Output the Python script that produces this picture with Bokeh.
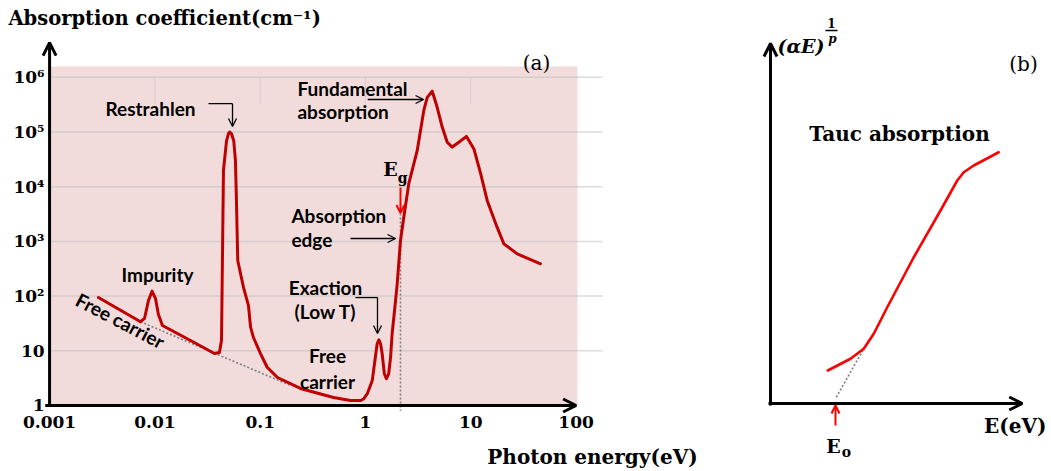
from bokeh.plotting import figure
from bokeh.layouts import row
from bokeh.models import Range1d, FixedTicker, Label, Arrow, OpenHead, LogAxis
from bokeh.embed import file_html
from bokeh.resources import INLINE

# ---------------------------------------------------------------------------
# (a) absorption coefficient versus photon energy (log-log, schematic)
# ---------------------------------------------------------------------------
energy_ev = [0.00291, 0.0073, 0.00797, 0.00869, 0.0094, 0.01014, 0.0108, 0.0118,
             0.0218, 0.0368, 0.041, 0.0429, 0.0439, 0.0448, 0.0479, 0.0500, 0.0514,
             0.0534, 0.0561, 0.0582, 0.0595, 0.0612, 0.0694, 0.0774, 0.081, 0.0863,
             0.1007, 0.1165, 0.146, 0.241, 0.497, 0.72, 0.90, 0.964, 1.04, 1.16, 1.24,
             1.29, 1.34, 1.39, 1.44, 1.51, 1.58, 1.66, 1.73, 1.79, 1.93, 2.0, 2.15,
             2.31, 2.58, 3.10, 3.58, 3.86, 4.30, 4.80, 5.35, 5.97, 6.66, 7.7, 9.1,
             10.7, 12.4, 14.3, 17.8, 20.6, 27.6, 45.9]
absorption_cm = [94, 34, 39, 83, 123, 90, 46, 29,
                 15.4, 8.9, 9.3, 15.5, 680, 2.0e4, 6.9e4, 9.3e4, 1.0e5,
                 9.3e4, 6.9e4, 3.0e4, 5.6e3, 447, 144, 67, 27, 17.5,
                 8.9, 5.0, 3.25, 2.05, 1.4, 1.23, 1.23, 1.33, 1.64, 2.86, 7.6,
                 13.4, 15.9, 13.4, 8.8, 3.8, 3.1, 3.8, 7.6, 20.5, 83, 167, 1040,
                 2770, 1.15e4, 4.6e4, 2.5e5, 4.3e5, 5.6e5, 2.8e5, 1.23e5, 6.5e4, 5.3e4,
                 6.5e4, 8.3e4, 4.9e4, 1.73e4, 5.6e3, 1.8e3, 900, 590, 390]

# free-carrier background extrapolation (dotted)
free_carrier_e = [0.0073, 0.194]
free_carrier_a = [34, 2.32]

EG_EV = 2.15  # band-gap energy marker

x_ticks = [0.001, 0.01, 0.1, 1.0, 10.0, 100.0]
x_tick_labels = ["0.001", "0.01", "0.1", "1", "10", "100"]
y_ticks = [1.0, 10.0, 100.0, 1000.0, 1e4, 1e5, 1e6]
y_tick_labels = ["1", "10", "10²", "10³", "10⁴", "10⁵", "10⁶"]

# ---------------------------------------------------------------------------
# (b) Tauc plot, arbitrary units
# ---------------------------------------------------------------------------
tauc_e = [2.29, 3.2, 3.73, 4.13, 4.67, 5.73, 6.8, 7.47, 7.73, 8.13, 9.13]
tauc_y = [1.32, 1.79, 2.19, 2.79, 3.85, 5.85, 7.72, 8.92, 9.25, 9.52, 10.05]
tauc_fit_e = [2.63, 3.73]
tauc_fit_y = [0.25, 2.19]
E0 = 2.6

SERIF = "DejaVu Serif"
SANS = "Lato"
CURVE_RED = "#c00000"
BRIGHT_RED = "#ff0000"
SHADE = "#f2dcdb"
GRID = "#bfbfbf"
DOT = "#7f7f7f"


def label(fig, x, y, text, font=SANS, size="19px", style="bold", align="center",
          color="black", angle=0.0):
    fig.add_layout(Label(x=x, y=y, text=text, text_font=font, text_font_size=size,
                         text_font_style=style, text_align=align, text_baseline="middle",
                         text_color=color, angle=angle))


def arrow(fig, x0, y0, x1, y1, width=1.3, size=8, color="black"):
    fig.add_layout(Arrow(end=OpenHead(size=size, line_width=width, line_color=color),
                         x_start=x0, y_start=y0, x_end=x1, y_end=y1,
                         line_width=width, line_color=color))


# the frame spans the whole canvas; axes are pinned at E = 0.001 eV and alpha = 1
p1 = figure(width=740, height=471, x_axis_type="log", y_axis_type="log",
            x_range=Range1d(3.42e-4, 3639.0), y_range=Range1d(0.0621, 2.535e7),
            x_axis_location=None, y_axis_location=None, min_border=0,
            toolbar_location=None, output_backend="svg", outline_line_color=None)
p1.xgrid.visible = False
p1.ygrid.visible = False

xaxis = LogAxis(fixed_location=1.0)
yaxis = LogAxis(fixed_location=0.001)
for ax, ticks, labels in ((xaxis, x_ticks, x_tick_labels),
                          (yaxis, y_ticks, y_tick_labels)):
    ax.ticker = FixedTicker(ticks=ticks)
    ax.major_label_overrides = dict(zip(ticks, labels))
    ax.axis_line_color = None
    ax.major_tick_line_color = None
    ax.minor_tick_line_color = None
    ax.major_tick_out = 0
    ax.minor_tick_out = 0
    ax.major_label_text_font = SERIF
    ax.major_label_text_font_style = "bold"
    ax.major_label_text_font_size = "17px"
    ax.major_label_text_color = "black"
xaxis.major_label_standoff = 11
yaxis.major_label_standoff = 5
p1.add_layout(xaxis, "below")
p1.add_layout(yaxis, "left")

# shaded plotting area
p1.quad(left=[0.001], right=[103.0], bottom=[1.0], top=[1.57e6],
        fill_color=SHADE, line_color=None, level="image")
# horizontal grid lines per decade, and short vertical marks along the top band
grid_levels = y_ticks[1:]
p1.segment(x0=[0.001] * len(grid_levels), y0=grid_levels,
           x1=[178.0] * len(grid_levels), y1=grid_levels,
           line_color=GRID, line_alpha=0.55, line_width=1.5, level="underlay")
p1.segment(x0=x_ticks[1:5], y0=[3.16e5] * 4, x1=x_ticks[1:5], y1=[1e6] * 4,
           line_color=GRID, line_alpha=0.45, line_width=1, level="underlay")

# dotted guides
p1.line(free_carrier_e, free_carrier_a, line_color=DOT, line_width=1.6, line_dash="2 2")
p1.line([EG_EV, EG_EV], [3240, 0.8], line_color=DOT, line_width=1.6, line_dash="2 2")

# spectrum
p1.line(energy_ev, absorption_cm, line_color=CURVE_RED, line_width=3,
        line_join="round", line_cap="round")

# axes with arrowheads
arrow(p1, 0.00091, 1, 100.0, 1, width=3, size=13)
arrow(p1, 0.001, 0.95, 0.001, 4.3e6, width=3, size=13)

# annotations
label(p1, 0.00908, 2.69e5, "Restrahlen")
p1.line([0.0323, 0.0546], [3.3e5, 3.3e5], line_color="black", line_width=1.3)
arrow(p1, 0.0546, 3.3e5, 0.0546, 1.26e5)

label(p1, 0.226, 6.24e5, "Fundamental", align="left")
label(p1, 0.226, 2.37e5, "absorption", align="left")
arrow(p1, 1.05, 3.93e5, 3.56, 3.93e5)

label(p1, 0.198, 2960, "Absorption", align="left")
label(p1, 0.198, 1083, "edge", align="left")
arrow(p1, 0.72, 1130, 1.93, 1130)

label(p1, 0.417, 144, "Exaction")
label(p1, 0.417, 52, "(Low T)")
p1.line([0.803, 1.30], [94, 94], line_color="black", line_width=1.3)
arrow(p1, 1.30, 94, 1.30, 20.7)

label(p1, 0.436, 8.2, "Free")
label(p1, 0.436, 2.75, "carrier")
label(p1, 0.0106, 248, "Impurity")
label(p1, 0.00471, 35.8, "Free carrier", angle=-0.48)

# band-gap marker
arrow(p1, EG_EV, 9670, EG_EV, 3300, width=2, size=8, color=BRIGHT_RED)
label(p1, 1.73, 2.15e4, "E", font=SERIF, size="19px", style="bold")
label(p1, 2.25, 1.47e4, "g", font=SERIF, size="14px", style="bold")

label(p1, 42.1, 1.79e6, "(a)", font=SERIF, size="20px", style="normal")
label(p1, 4.07e-4, 1.19e7, "Absorption coefficient(cm⁻¹)", font=SERIF, size="19.5px",
      style="bold", align="left")
label(p1, 143.0, 0.112, "Photon energy(eV)", font=SERIF, size="20px", style="bold")

# ---------------------------------------------------------------------------
p2 = figure(width=311, height=471, x_range=Range1d(-1.2, 11.24),
            y_range=Range1d(-2.72, 16.12), x_axis_location=None, y_axis_location=None,
            min_border=0, toolbar_location=None, output_backend="svg",
            outline_line_color=None)
p2.xgrid.visible = False
p2.ygrid.visible = False

arrow(p2, 0, -0.08, 0, 14.4, width=3, size=13)
arrow(p2, -0.08, 0, 10.07, 0, width=3, size=13)

p2.line(tauc_fit_e, tauc_fit_y, line_color=DOT, line_width=1.6, line_dash="2 2")
p2.line(tauc_e, tauc_y, line_color=BRIGHT_RED, line_width=2.6, line_join="round",
        line_cap="round")

arrow(p2, E0, -0.88, E0, -0.08, width=2, size=8, color=BRIGHT_RED)
label(p2, 2.52, -1.68, "E", font=SERIF, size="19px", style="bold")
label(p2, 3.04, -1.92, "o", font=SERIF, size="14px", style="bold")

label(p2, 11.04, -0.88, "E(eV)", font=SERIF, size="20px", style="bold", align="right")
label(p2, 10.12, 13.6, "(b)", font=SERIF, size="20px", style="normal")
label(p2, 5.16, 10.8, "Tauc absorption", font=SERIF, size="20px", style="bold")

label(p2, 0.28, 14.32, "(αE)", font=SERIF, size="19px", style="bold italic", align="left")
label(p2, 2.44, 15.24, "1", font=SERIF, size="12px", style="bold")
p2.line([2.2, 2.68], [14.92, 14.92], line_color="black", line_width=1.3)
label(p2, 2.48, 14.6, "p", font=SERIF, size="12px", style="bold italic")

layout = row(p1, p2)
open("out.html", "w").write(file_html(layout, INLINE))
